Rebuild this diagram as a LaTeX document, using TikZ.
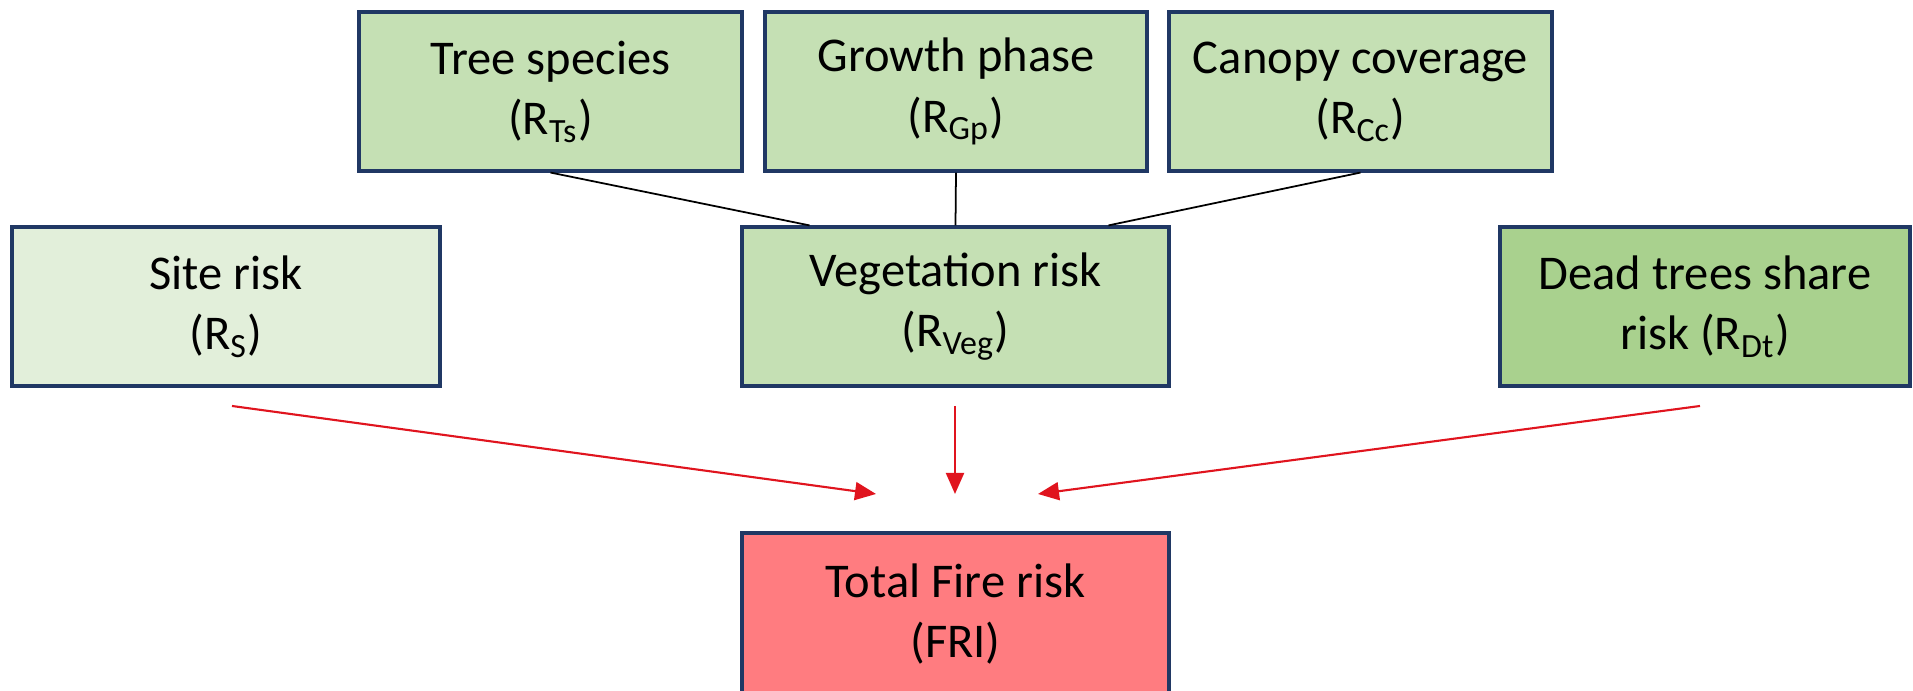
\documentclass[tikz,border=0pt]{standalone}
\usepackage{fontspec}
\setmainfont{Carlito}
\usepackage{tikz}
\usetikzlibrary{shapes,arrows,arrows.meta,positioning,calc}
\usepackage{xcolor}

\definecolor{boxline}{HTML}{203864}
\definecolor{midgreen}{HTML}{C5E0B4}
\definecolor{palegreen}{HTML}{E2EFDA}
\definecolor{deepgreen}{HTML}{A9D18E}
\definecolor{firered}{HTML}{FF7C80}
\definecolor{arrowred}{HTML}{E0141E}

\begin{document}
\begin{tikzpicture}[
    riskbox/.style={draw=boxline, line width=0.9pt, fill=midgreen, align=center,
        inner sep=0pt, minimum height=1.59cm,
        font=\fontsize{13.8}{17.2}\selectfont},
    feeds/.style={draw=arrowred, line width=0.6pt,
        -{Triangle[length=2.1mm, width=1.8mm]}},
    joins/.style={draw=black, line width=0.5pt}
]
    \useasboundingbox (0,0) rectangle (19.13,6.91);

    % Vegetation factors
    \node[riskbox, minimum width=3.83cm] (ts) at (5.505,5.995) {Tree species\\(R\textsubscript{Ts})};
    \node[riskbox, minimum width=3.82cm] (gp) at (9.56,5.995) {Growth phase\\(R\textsubscript{Gp})};
    \node[riskbox, minimum width=3.83cm] (cc) at (13.605,5.995) {Canopy coverage\\(R\textsubscript{Cc})};

    % Partial risks
    \node[riskbox, fill=palegreen, minimum width=4.28cm] (site) at (2.26,3.845) {Site risk\\(R\textsubscript{S})};
    \node[riskbox, minimum width=4.27cm] (veg) at (9.555,3.845) {Vegetation risk\\(R\textsubscript{Veg})};
    \node[riskbox, fill=deepgreen, minimum width=4.10cm] (dead) at (17.05,3.845) {Dead trees share\\risk (R\textsubscript{Dt})};

    % Total
    \node[riskbox, fill=firered, minimum width=4.27cm, minimum height=1.62cm] (fri) at (9.555,0.77) {Total Fire risk\\(FRI)};

    % Vegetation links
    \draw[joins] (ts.south) -- ([xshift=-1.46cm]veg.north);
    \draw[joins] (gp.south) -- (veg.north);
    \draw[joins] (cc.south) -- ([xshift=1.53cm]veg.north);

    % Red arrows
    \coordinate (sitefrom) at (2.32,2.85);
    \coordinate (siteto) at (8.76,1.97);
    \coordinate (vegfrom) at (9.55,2.85);
    \coordinate (vegto) at (9.55,1.97);
    \coordinate (deadfrom) at (17.0,2.85);
    \coordinate (deadto) at (10.38,1.97);
    \draw[feeds] (sitefrom) -- (siteto);
    \draw[feeds] (vegfrom) -- (vegto);
    \draw[feeds] (deadfrom) -- (deadto);
\end{tikzpicture}
\end{document}
